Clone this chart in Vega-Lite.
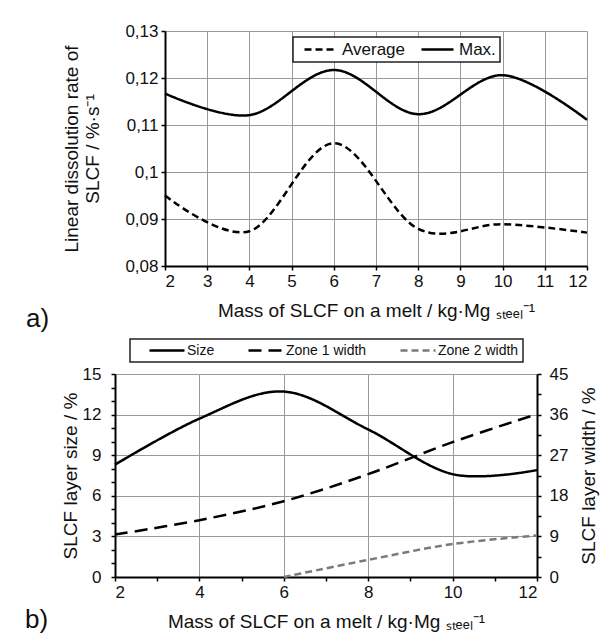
{
  "$schema": "https://vega.github.io/schema/vega-lite/v6.json",
  "background": "white",
  "padding": {"left": 25, "top": 22, "right": 5, "bottom": 5},
  "spacing": 6,
  "resolve": {"scale": {"color": "independent", "strokeDash": "independent"}, "legend": {"color": "independent", "strokeDash": "independent"}},
  "config": {
    "font": "Liberation Sans",
    "view": {"stroke": null},
    "axis": {
      "domainColor": "#000", "domainWidth": 2,
      "tickColor": "#000", "tickWidth": 1.5, "tickSize": 4,
      "labelFont": "Liberation Sans", "labelFontSize": 17, "labelColor": "#111",
      "labelOverlap": false,
      "titleFont": "Liberation Sans", "titleFontSize": 19, "titleFontWeight": "normal", "titleColor": "#111",
      "gridColor": "#9a9a9a", "gridWidth": 1
    },
    "legend": {
      "strokeColor": "#222", "fillColor": "white", "strokeWidth": 1.5,
      "labelFont": "Liberation Sans", "labelColor": "#111",
      "symbolType": "stroke", "symbolStrokeWidth": 2.5,
      "titleFontWeight": "normal"
    },
    "title": {"font": "Liberation Sans", "fontWeight": "normal", "color": "#111"}
  },
  "datasets": {
    "top": [
      {"x": 2, "value": 0.0950, "series": "Average"},
      {"x": 4, "value": 0.0874, "series": "Average"},
      {"x": 6, "value": 0.1061, "series": "Average"},
      {"x": 8, "value": 0.0879, "series": "Average"},
      {"x": 10, "value": 0.0889, "series": "Average"},
      {"x": 12, "value": 0.0871, "series": "Average"},
      {"x": 2, "value": 0.1167, "series": "Max."},
      {"x": 4, "value": 0.1121, "series": "Max."},
      {"x": 6, "value": 0.1217, "series": "Max."},
      {"x": 8, "value": 0.1123, "series": "Max."},
      {"x": 10, "value": 0.1206, "series": "Max."},
      {"x": 12, "value": 0.1111, "series": "Max."}
    ],
    "size": [
      {"x": 2, "value": 8.3, "series": "Size"},
      {"x": 4, "value": 11.7, "series": "Size"},
      {"x": 6, "value": 13.7, "series": "Size"},
      {"x": 8, "value": 10.9, "series": "Size"},
      {"x": 10, "value": 7.6, "series": "Size"},
      {"x": 12, "value": 7.9, "series": "Size"}
    ],
    "zones": [
      {"x": 2, "value": 9.4, "series": "Zone 1 width"},
      {"x": 4, "value": 12.6, "series": "Zone 1 width"},
      {"x": 6, "value": 16.8, "series": "Zone 1 width"},
      {"x": 8, "value": 22.8, "series": "Zone 1 width"},
      {"x": 10, "value": 29.9, "series": "Zone 1 width"},
      {"x": 12, "value": 36.1, "series": "Zone 1 width"},
      {"x": 6, "value": 0, "series": "Zone 2 width"},
      {"x": 8, "value": 3.8, "series": "Zone 2 width"},
      {"x": 10, "value": 7.3, "series": "Zone 2 width"},
      {"x": 12, "value": 9.2, "series": "Zone 2 width"}
    ]
  },
  "vconcat": [
    {
      "width": 472,
      "height": 235,
      "title": {"text": "a)", "orient": "bottom", "anchor": "start", "frame": "group", "dx": -89, "offset": -14, "fontSize": 26},
      "data": {"name": "top"},
      "mark": {"type": "line", "interpolate": "cardinal", "strokeWidth": 2.5},
      "encoding": {
        "x": {
          "field": "x", "type": "quantitative",
          "scale": {"domain": [2, 12], "range": [50, 472], "nice": false, "zero": false},
          "axis": {
            "values": [2, 2.5, 3, 3.5, 4, 4.5, 5, 5.5, 6, 6.5, 7, 7.5, 8, 8.5, 9, 9.5, 10, 10.5, 11, 11.5, 12],
            "format": "d",
            "labelExpr": "datum.value % 1 === 0 ? datum.label : ''",
            "gridOpacity": {"condition": {"test": "datum.value % 1 === 0", "value": 1}, "value": 0},
            "title": "Mass of SLCF on a melt / kg·Mg ₛₜₑₑₗ⁻¹",
            "labelPadding": 3, "titlePadding": 12
          }
        },
        "y": {
          "field": "value", "type": "quantitative",
          "scale": {"domain": [0.08, 0.13], "nice": false, "zero": false},
          "axis": {
            "values": [0.08, 0.09, 0.1, 0.11, 0.12, 0.13],
            "labelExpr": "replace(format(datum.value, '.2~f'), '.', ',')",
            "offset": -50,
            "title": ["Linear dissolution rate of", "SLCF / %·s⁻¹"],
            "titlePadding": 22, "titleLineHeight": 21, "labelPadding": 3
          }
        },
        "color": {
          "field": "series", "type": "nominal",
          "scale": {"domain": ["Average", "Max."], "range": ["#000000", "#000000"]},
          "legend": {
            "orient": "none", "legendX": 178, "legendY": 6, "direction": "horizontal",
            "title": " ", "titleOrient": "left", "titlePadding": 6, "titleFontSize": 17,
            "padding": 4, "columnPadding": 14, "labelFontSize": 17, "labelOffset": 4,
            "symbolSize": 1024, "clipHeight": 17
          }
        },
        "strokeDash": {
          "field": "series", "type": "nominal",
          "scale": {"domain": ["Average", "Max."], "range": [[7, 4], [1, 0]]},
          "legend": {
            "orient": "none", "legendX": 178, "legendY": 6, "direction": "horizontal",
            "title": " ", "titleOrient": "left", "titlePadding": 6, "titleFontSize": 17,
            "padding": 4, "columnPadding": 14, "labelFontSize": 17, "labelOffset": 4,
            "symbolSize": 1024, "clipHeight": 17
          }
        }
      }
    },
    {
      "width": 422,
      "height": 203,
      "title": {"text": "b)", "orient": "bottom", "anchor": "start", "frame": "group", "dx": -90, "offset": -24, "fontSize": 26},
      "layer": [
        {
          "data": {"name": "size"},
          "mark": {"type": "line", "interpolate": "cardinal", "strokeWidth": 2.5},
          "encoding": {
            "x": {
              "field": "x", "type": "quantitative",
              "scale": {"domain": [2, 12], "nice": false, "zero": false},
              "axis": {
                "values": [2, 2.5, 3, 3.5, 4, 4.5, 5, 5.5, 6, 6.5, 7, 7.5, 8, 8.5, 9, 9.5, 10, 10.5, 11, 11.5, 12],
                "format": "d",
                "labelExpr": "datum.value % 2 === 0 ? datum.label : ''",
                "gridOpacity": {"condition": {"test": "datum.value % 2 === 0", "value": 1}, "value": 0},
                "title": "Mass of SLCF on a melt / kg·Mg ₛₜₑₑₗ⁻¹",
                "labelPadding": 3, "titlePadding": 12
              }
            },
            "y": {
              "field": "value", "type": "quantitative",
              "scale": {"domain": [0, 15], "nice": false},
              "axis": {
                "values": [0, 0.5, 1, 1.5, 2, 2.5, 3, 3.5, 4, 4.5, 5, 5.5, 6, 6.5, 7, 7.5, 8, 8.5, 9, 9.5, 10, 10.5, 11, 11.5, 12, 12.5, 13, 13.5, 14, 14.5, 15],
                "format": "d",
                "labelExpr": "datum.value % 3 === 0 ? datum.label : ''",
                "gridOpacity": {"condition": {"test": "datum.value % 3 === 0", "value": 1}, "value": 0},
                "title": "SLCF layer size / %",
                "labelPadding": 10, "titlePadding": 2
              }
            },
            "color": {
              "field": "series", "type": "nominal",
              "scale": {"domain": ["Size", "Zone 1 width", "Zone 2 width"], "range": ["#000000", "#000000", "#7a7a7a"]},
              "legend": {
                "orient": "none", "legendX": 15, "legendY": -35, "direction": "horizontal",
                "title": " ", "titleOrient": "left", "titlePadding": 14, "titleFontSize": 14,
                "padding": 4, "columnPadding": 32, "labelFontSize": 14, "labelOffset": 1,
                "symbolSize": 1225, "clipHeight": 15
              }
            },
            "strokeDash": {
              "field": "series", "type": "nominal",
              "scale": {"domain": ["Size", "Zone 1 width", "Zone 2 width"], "range": [[1, 0], [13, 7], [7, 4]]},
              "legend": {
                "orient": "none", "legendX": 15, "legendY": -35, "direction": "horizontal",
                "title": " ", "titleOrient": "left", "titlePadding": 14, "titleFontSize": 14,
                "padding": 4, "columnPadding": 32, "labelFontSize": 14, "labelOffset": 1,
                "symbolSize": 1225, "clipHeight": 15
              }
            }
          }
        },
        {
          "data": {"name": "zones"},
          "mark": {"type": "line", "interpolate": "cardinal", "strokeWidth": 2.5},
          "encoding": {
            "x": {
              "field": "x", "type": "quantitative",
              "scale": {"domain": [2, 12], "nice": false, "zero": false},
              "axis": {
                "values": [2, 2.5, 3, 3.5, 4, 4.5, 5, 5.5, 6, 6.5, 7, 7.5, 8, 8.5, 9, 9.5, 10, 10.5, 11, 11.5, 12],
                "format": "d",
                "labelExpr": "datum.value % 2 === 0 ? datum.label : ''",
                "gridOpacity": {"condition": {"test": "datum.value % 2 === 0", "value": 1}, "value": 0},
                "title": "Mass of SLCF on a melt / kg·Mg ₛₜₑₑₗ⁻¹",
                "labelPadding": 3, "titlePadding": 12
              }
            },
            "y": {
              "field": "value", "type": "quantitative",
              "scale": {"domain": [0, 45], "nice": false},
              "axis": {
                "orient": "right",
                "values": [0, 4.5, 9, 13.5, 18, 22.5, 27, 31.5, 36, 40.5, 45],
                "format": "d",
                "labelExpr": "datum.value % 9 === 0 ? datum.label : ''",
                "grid": false,
                "title": "SLCF layer width / %",
                "titleAngle": 270, "titleBaseline": "top",
                "labelPadding": 8, "titlePadding": 12
              }
            },
            "color": {
              "field": "series", "type": "nominal",
              "scale": {"domain": ["Size", "Zone 1 width", "Zone 2 width"], "range": ["#000000", "#000000", "#7a7a7a"]},
              "legend": {
                "orient": "none", "legendX": 15, "legendY": -35, "direction": "horizontal",
                "title": " ", "titleOrient": "left", "titlePadding": 14, "titleFontSize": 14,
                "padding": 4, "columnPadding": 32, "labelFontSize": 14, "labelOffset": 1,
                "symbolSize": 1225, "clipHeight": 15
              }
            },
            "strokeDash": {
              "field": "series", "type": "nominal",
              "scale": {"domain": ["Size", "Zone 1 width", "Zone 2 width"], "range": [[1, 0], [13, 7], [7, 4]]},
              "legend": {
                "orient": "none", "legendX": 15, "legendY": -35, "direction": "horizontal",
                "title": " ", "titleOrient": "left", "titlePadding": 14, "titleFontSize": 14,
                "padding": 4, "columnPadding": 32, "labelFontSize": 14, "labelOffset": 1,
                "symbolSize": 1225, "clipHeight": 15
              }
            }
          }
        }
      ],
      "resolve": {"scale": {"y": "independent"}}
    }
  ]
}
